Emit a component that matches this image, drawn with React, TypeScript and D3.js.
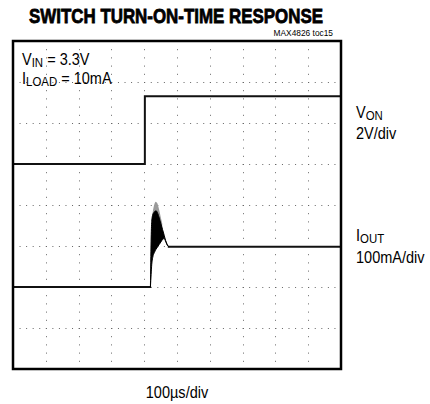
import React from 'react';
import * as d3 from 'd3';

// scope: 10 horizontal divisions of 100us, 8 vertical divisions
const timeTicks = [0, 100, 200, 300, 400, 500, 600, 700, 800, 900, 1000];
const divTicks = [0, 1, 2, 3, 4, 5, 6, 7, 8];

// V_ON channel, 2V/div, ground at division 5
const vonTime = [0, 402, 402, 1000];
const vonVolts = [0, 0, 3.3, 3.3];

// I_OUT channel, 100mA/div, ground at division 2
const ioutLowTime = [0, 421];
const ioutLowMa = [0, 0];
const ioutHighTime = [472, 1000];
const ioutHighMa = [98, 98];

// ringing at turn-on, drawn as an envelope
const spikeTime = [419, 421, 423, 426, 431, 436, 441, 446, 451, 456, 461, 465, 469, 472, 476];
const spikeUpper = [0, 110, 160, 176, 183, 186, 180, 168, 154, 140, 126, 114, 106, 101, 98];
const spikeLower = [0, 30, 55, 72, 84, 92, 98, 104, 110, 116, 118, 112, 104, 100, 98];

const greyTime = [423, 427, 431, 435, 440, 445, 450, 455];
const greyUpper = [165, 188, 202, 208, 204, 190, 172, 155];

const W = 430;
const H = 404;
const left = 13, right = 341, top = 41, bottom = 369;

const font = '"Liberation Sans", Arial, sans-serif';

// narrow label: taller glyphs squeezed sideways, like the datasheet face
function Label({ x, y, children, anchor }: { x: number; y: number; children: React.ReactNode; anchor?: string }) {
  return (
    <text transform={`translate(${x},${y}) scale(0.88,1)`} textAnchor={anchor || 'start'}>{children}</text>
  );
}

export default function App() {
  const x = d3.scaleLinear().domain([0, 1000]).range([left, right]);
  const y = d3.scaleLinear().domain([0, 8]).range([bottom, top]);
  const vonY = (v: number) => y(5 + v / 2);
  const ioutY = (ma: number) => y(2 + ma / 100);

  const line = d3.line<[number, number]>().x(d => d[0]).y(d => d[1]);
  const zipV = vonTime.map((t, i) => [x(t), vonY(vonVolts[i])] as [number, number]);
  const zipLow = ioutLowTime.map((t, i) => [x(t), ioutY(ioutLowMa[i])] as [number, number]);
  const zipHigh = ioutHighTime.map((t, i) => [x(t), ioutY(ioutHighMa[i])] as [number, number]);

  const spikeArea = d3.area<number>()
    .x((d, i) => x(spikeTime[i]))
    .y0((d, i) => ioutY(spikeLower[i]))
    .y1((d, i) => ioutY(spikeUpper[i]))
    .curve(d3.curveMonotoneX);

  const greyArea = d3.area<number>()
    .x((d, i) => x(greyTime[i]))
    .y0(() => ioutY(120))
    .y1(d => ioutY(d))
    .curve(d3.curveMonotoneX);

  const hStep = (x(100) - x(0)) / 5;
  const vStep = (y(0) - y(1)) / 5;

  return (
    <svg width={W} height={H} style={{ display: 'block', position: 'absolute', left: 0, top: 0 }}>
      <rect width={W} height={H} fill="#fff" />
      <text x={29} y={23} fontFamily={font} fontWeight="bold" fontSize={21} textLength={294}
        lengthAdjust="spacingAndGlyphs" stroke="#000" strokeWidth={0.8}>SWITCH TURN-ON-TIME RESPONSE</text>
      <g fontFamily={font} fontSize={9.5}>
        <Label x={333} y={36} anchor="end">MAX4826 toc15</Label>
      </g>

      {/* dotted grid */}
      <g stroke="#666" strokeWidth={1}>
        {divTicks.slice(1, -1).map(d => (
          <line key={'h' + d} x1={left} x2={right} y1={Math.round(y(d)) + 0.5} y2={Math.round(y(d)) + 0.5}
            strokeDasharray={`1 ${hStep - 1}`} />
        ))}
        {timeTicks.slice(1, -1).map(t => (
          <line key={'v' + t} x1={Math.round(x(t)) + 0.5} x2={Math.round(x(t)) + 0.5} y1={top} y2={bottom}
            strokeDasharray={`1 ${vStep - 1}`} />
        ))}
      </g>

      {/* traces */}
      <g fill="none" stroke="#111" strokeWidth={2}>
        <path d={line(zipV) || ''} />
        <path d={line(zipLow) || ''} />
        <path d={line(zipHigh) || ''} />
      </g>
      <path d={greyArea(greyUpper) || ''} fill="#9a9a9a" />
      <path d={spikeArea(spikeTime) || ''} fill="#000" stroke="#000" strokeWidth={1} />

      <rect x={left} y={top} width={right - left} height={bottom - top} fill="none" stroke="#000" strokeWidth={2.5} />

      {/* annotations */}
      <g fontFamily={font} fontSize={16.5} fill="#000">
        <Label x={22} y={65}>V<tspan fontSize={13} dy={2}>IN</tspan><tspan dy={-2}> = 3.3V</tspan></Label>
        <Label x={22} y={84}>I<tspan fontSize={13} dy={2}>LOAD</tspan><tspan dy={-2}> = 10mA</tspan></Label>
        <Label x={356} y={118}>V<tspan fontSize={13} dy={2}>ON</tspan></Label>
        <Label x={356} y={139}>2V/div</Label>
        <Label x={356} y={241}>I<tspan fontSize={13} dy={2}>OUT</tspan></Label>
        <Label x={356} y={263}>100mA/div</Label>
        <Label x={(left + right) / 2} y={398} anchor="middle">100µs/div</Label>
      </g>
    </svg>
  );
}
